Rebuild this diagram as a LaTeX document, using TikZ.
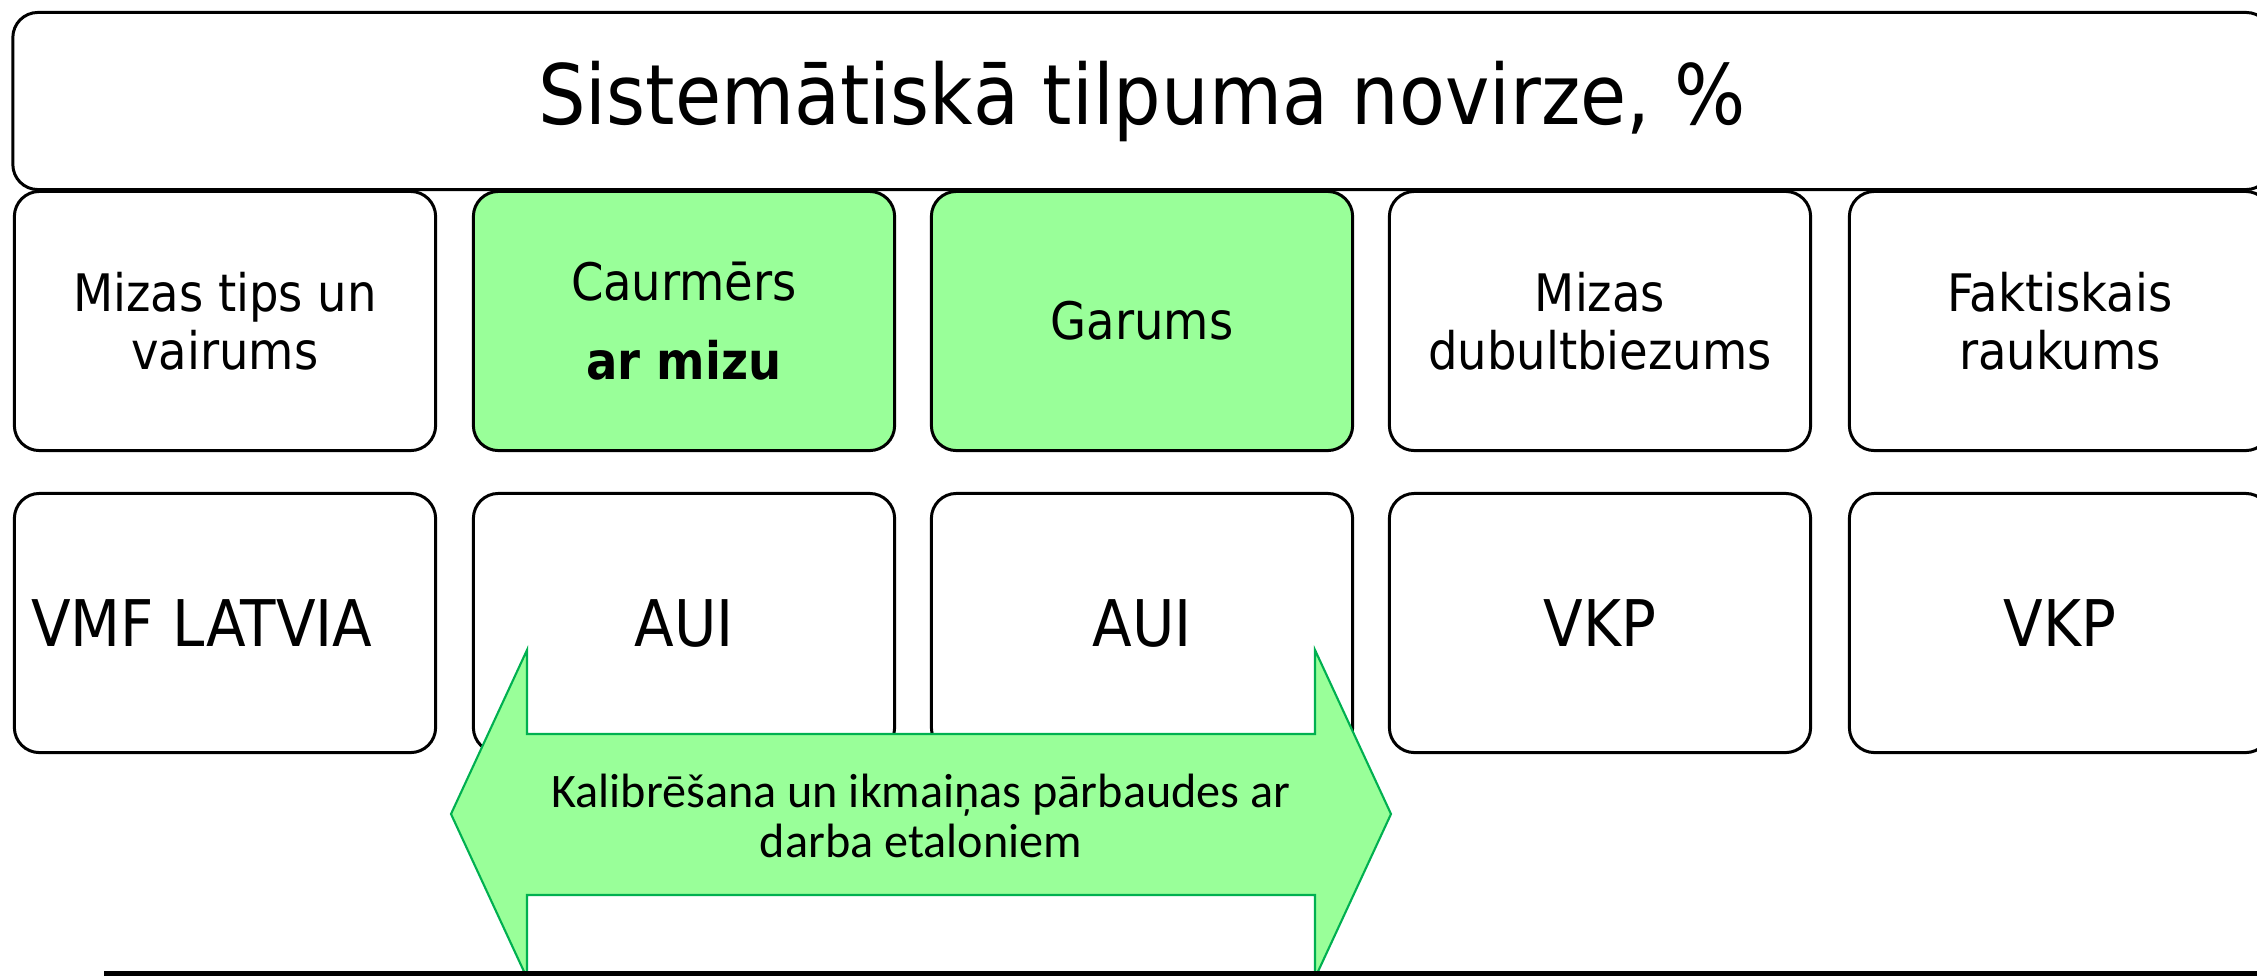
\documentclass[tikz,border=0pt]{standalone}
\usepackage{fontspec}
\setmainfont{DejaVu Sans Condensed}
\newfontfamily\calibri{Carlito}
\definecolor{lightgreen}{RGB}{153,255,153}
\definecolor{arrowgreen}{RGB}{0,176,80}
\definecolor{baseline}{RGB}{10,60,10}
\begin{document}
\begin{tikzpicture}[x=0.01cm,y=-0.01cm,
  box/.style={draw,fill=white,rounded corners=0.25cm,line width=0.85pt,
    minimum width=4.21cm,minimum height=2.59cm,align=center},
  factor/.style={box,font=\fontsize{14.7}{16.5}\selectfont},
  source/.style={box,font=\fontsize{18.3}{21}\selectfont},
  marked/.style={fill=lightgreen}]
  \useasboundingbox (0,0) rectangle (2257,975);
  % title
  \node[box,minimum width=22.57cm,minimum height=1.77cm,
    font=\fontsize{23.7}{28}\selectfont] (title) at (1142,101)
    {Sistemātiskā tilpuma novirze, \%};
  % factors
  \node[factor] (f1) at (225,321) {Mizas tips un\\vairums};
  \node[factor,marked] (f2) at (684,321) {Caurmērs\\[6pt]\textbf{ar mizu}};
  \node[factor,marked] (f3) at (1142,321) {Garums};
  \node[factor] (f4) at (1600,321) {Mizas\\dubultbiezums};
  \node[factor] (f5) at (2060,321) {Faktiskais\\raukums};
  % sources
  \node[source] (s1) at (225,623) {VMF LATVIA\hspace{0.46cm}};
  \node[source] (s2) at (684,623) {AUI};
  \node[source] (s3) at (1142,623) {AUI};
  \node[source] (s4) at (1600,623) {VKP};
  \node[source] (s5) at (2060,623) {VKP};
  % calibration arrow
  \draw[fill=lightgreen,draw=arrowgreen,line width=0.6pt]
    (451,814) -- (527,650) -- (527,734) -- (1315,734) -- (1315,650)
    -- (1391,814) -- (1315,978) -- (1315,895) -- (527,895) -- (527,978) -- cycle;
  \node[align=center,font=\calibri\fontsize{13.7}{14.3}\selectfont] (calib) at (921,816)
    {Kalibrēšana un ikmaiņas pārbaudes ar\\darba etaloniem};
  % base line
  \coordinate (lineL) at (104,974);
  \coordinate (lineR) at (2270,974);
  \draw[baseline,line width=0.06cm] (lineL) -- (lineR);
\end{tikzpicture}
\end{document}
